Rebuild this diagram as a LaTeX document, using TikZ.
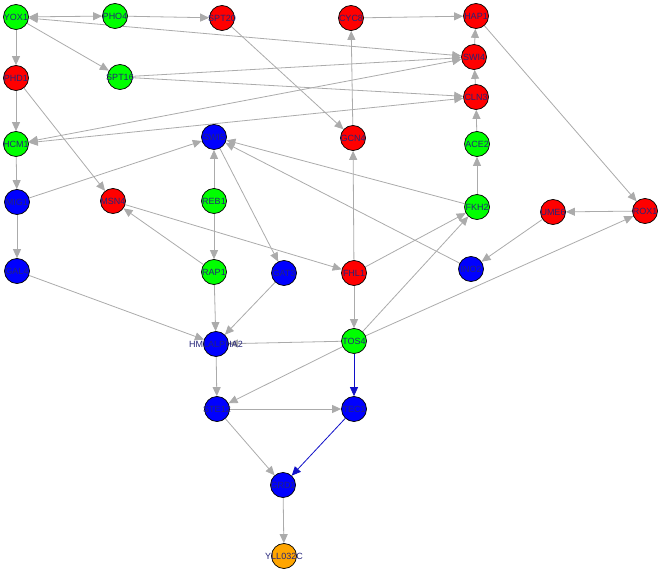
\documentclass[tikz,border=0pt]{standalone}
\usepackage{fontspec}
\setsansfont{Liberation Sans}
\usetikzlibrary{arrows.meta}

\definecolor{tfgreen}{HTML}{00FF00}
\definecolor{tfred}{HTML}{FF0000}
\definecolor{tfblue}{HTML}{0000FF}
\definecolor{tforange}{HTML}{FFA500}
\definecolor{edgegray}{HTML}{ABABAB}
\definecolor{edgeblue}{HTML}{1010C8}
\definecolor{labelnavy}{HTML}{24247A}

\pgfdeclarelayer{edges}
\pgfsetlayers{edges,main}

\begin{document}
\begin{tikzpicture}[x=1pt, y=-1pt,
    % fixed circle size; names may run over the rim
    gene/.style={circle, draw=black, line width=0.7pt, minimum size=25pt, inner sep=0pt,
                 font=\sffamily\fontsize{9}{9}\selectfont, text=labelnavy,
                 execute at begin node={\hbox to 0pt\bgroup\hss},
                 execute at end node={\hss\egroup}},
    grn/.style={gene, fill=tfgreen},
    rd/.style={gene, fill=tfred},
    bl/.style={gene, fill=tfblue},
    org/.style={gene, fill=tforange},
    link/.style={draw=edgegray, line width=0.8pt, -{Triangle[length=9pt,width=8pt]}},
    both/.style={link, {Triangle[length=9pt,width=8pt]}-{Triangle[length=9pt,width=8pt]}},
    blink/.style={link, draw=edgeblue}
]

    \useasboundingbox (0,0) rectangle (661,572);

    % Top rows
    \node[grn] (yox1)  at (16,17)   {YOX1};
    \node[grn] (pho4)  at (115,16)  {PHO4};
    \node[rd]  (spt20) at (222,18)  {SPT20};
    \node[rd]  (cyc8)  at (351,18)  {CYC8};
    \node[rd]  (hap1)  at (476,16)  {HAP1};
    \node[rd]  (phd1)  at (16,78)   {PHD1};
    \node[grn] (spt16) at (120,77)  {SPT16};
    \node[rd]  (swi4)  at (474,57)  {SWI4};
    \node[rd]  (cln3)  at (476,97)  {CLN3};

    % Middle rows
    \node[grn] (hcm1)  at (16,144)  {HCM1};
    \node[bl]  (swi5)  at (214,137) {SWI5};
    \node[rd]  (gcn4)  at (353,138) {GCN4};
    \node[grn] (ace2)  at (477,144) {ACE2};
    \node[bl]  (mig1)  at (17,202)  {MIG1};
    \node[rd]  (msn4)  at (113,201) {MSN4};
    \node[grn] (reb1)  at (214,201) {REB1};
    \node[grn] (fkh2)  at (477,207) {FKH2};
    \node[rd]  (ume6)  at (553,212) {UME6};
    \node[rd]  (rox1)  at (645,211) {ROX1};
    \node[bl]  (gal4)  at (17,271)  {GAL4};
    \node[grn] (rap1)  at (214,272) {RAP1};
    \node[bl]  (gat3)  at (284,273) {GAT3};
    \node[rd]  (fhl1)  at (354,273) {FHL1};
    \node[bl]  (ino2)  at (471,269) {INO2};

    % Bottom rows
    \node[bl]  (hmla2) at (216,344) {HMLALPHA2};
    \node[grn] (tos4)  at (354,341) {TOS4};
    \node[bl]  (ste12) at (217,409) {STE12};
    \node[bl]  (tec1)  at (354,409) {TEC1};
    \node[bl]  (grd1)  at (283,485) {GRD1};
    \node[org] (yll)   at (284,556) {YLL032C};

    \begin{pgfonlayer}{edges}
    % Regulatory links
    \draw[both] (yox1) -- (pho4);
    \draw[both] (yox1) -- (swi4);
    \draw[link] (pho4) -- (spt20);
    \draw[link] (yox1) -- (spt16);
    \draw[link] (yox1) -- (phd1);
    \draw[link] (spt20) -- (gcn4);
    \draw[link] (gcn4) -- (cyc8);
    \draw[link] (cyc8) -- (hap1);
    \draw[link] (swi4) -- (hap1);
    \draw[link] (cln3) -- (swi4);
    \draw[link] (ace2) -- (cln3);
    \draw[link] (fkh2) -- (ace2);
    \draw[link] (hap1) -- (rox1);
    \draw[link] (spt16) -- (swi4);
    \draw[link] (spt16) -- (cln3);
    \draw[both] (hcm1) -- (swi4);
    \draw[both] (hcm1) -- (cln3);
    \draw[link] (phd1) -- (hcm1);
    \draw[link] (phd1) -- (msn4);
    \draw[link] (hcm1) -- (mig1);
    \draw[link] (mig1) -- (swi5);
    \draw[link] (mig1) -- (gal4);
    \draw[link] (gal4) -- (hmla2);
    \draw[link] (reb1) -- (swi5);
    \draw[link] (reb1) -- (rap1);
    \draw[link] (rap1) -- (msn4);
    \draw[link] (rap1) -- (hmla2);
    \draw[link] (swi5) -- (gat3);
    \draw[link] (gat3) -- (hmla2);
    \draw[link] (msn4) -- (fhl1);
    \draw[link] (fkh2) -- (swi5);
    \draw[link] (ino2) -- (swi5);
    \draw[link] (fhl1) -- (gcn4);
    \draw[link] (fhl1) -- (fkh2);
    \draw[link] (fhl1) -- (tos4);
    \draw[link] (rox1) -- (ume6);
    \draw[link] (ume6) -- (ino2);
    \draw[link] (tos4) -- (fkh2);
    \draw[link] (tos4) -- (rox1);
    \draw[link] (tos4) -- (hmla2);
    \draw[link] (tos4) -- (ste12);
    \draw[link] (hmla2) -- (ste12);
    \draw[link] (ste12) -- (tec1);
    \draw[link] (ste12) -- (grd1);
    \draw[link] (grd1) -- (yll);

    % Blue path
    \draw[blink] (tos4) -- (tec1);
    \draw[blink] (tec1) -- (grd1);
    \end{pgfonlayer}

\end{tikzpicture}
\end{document}
